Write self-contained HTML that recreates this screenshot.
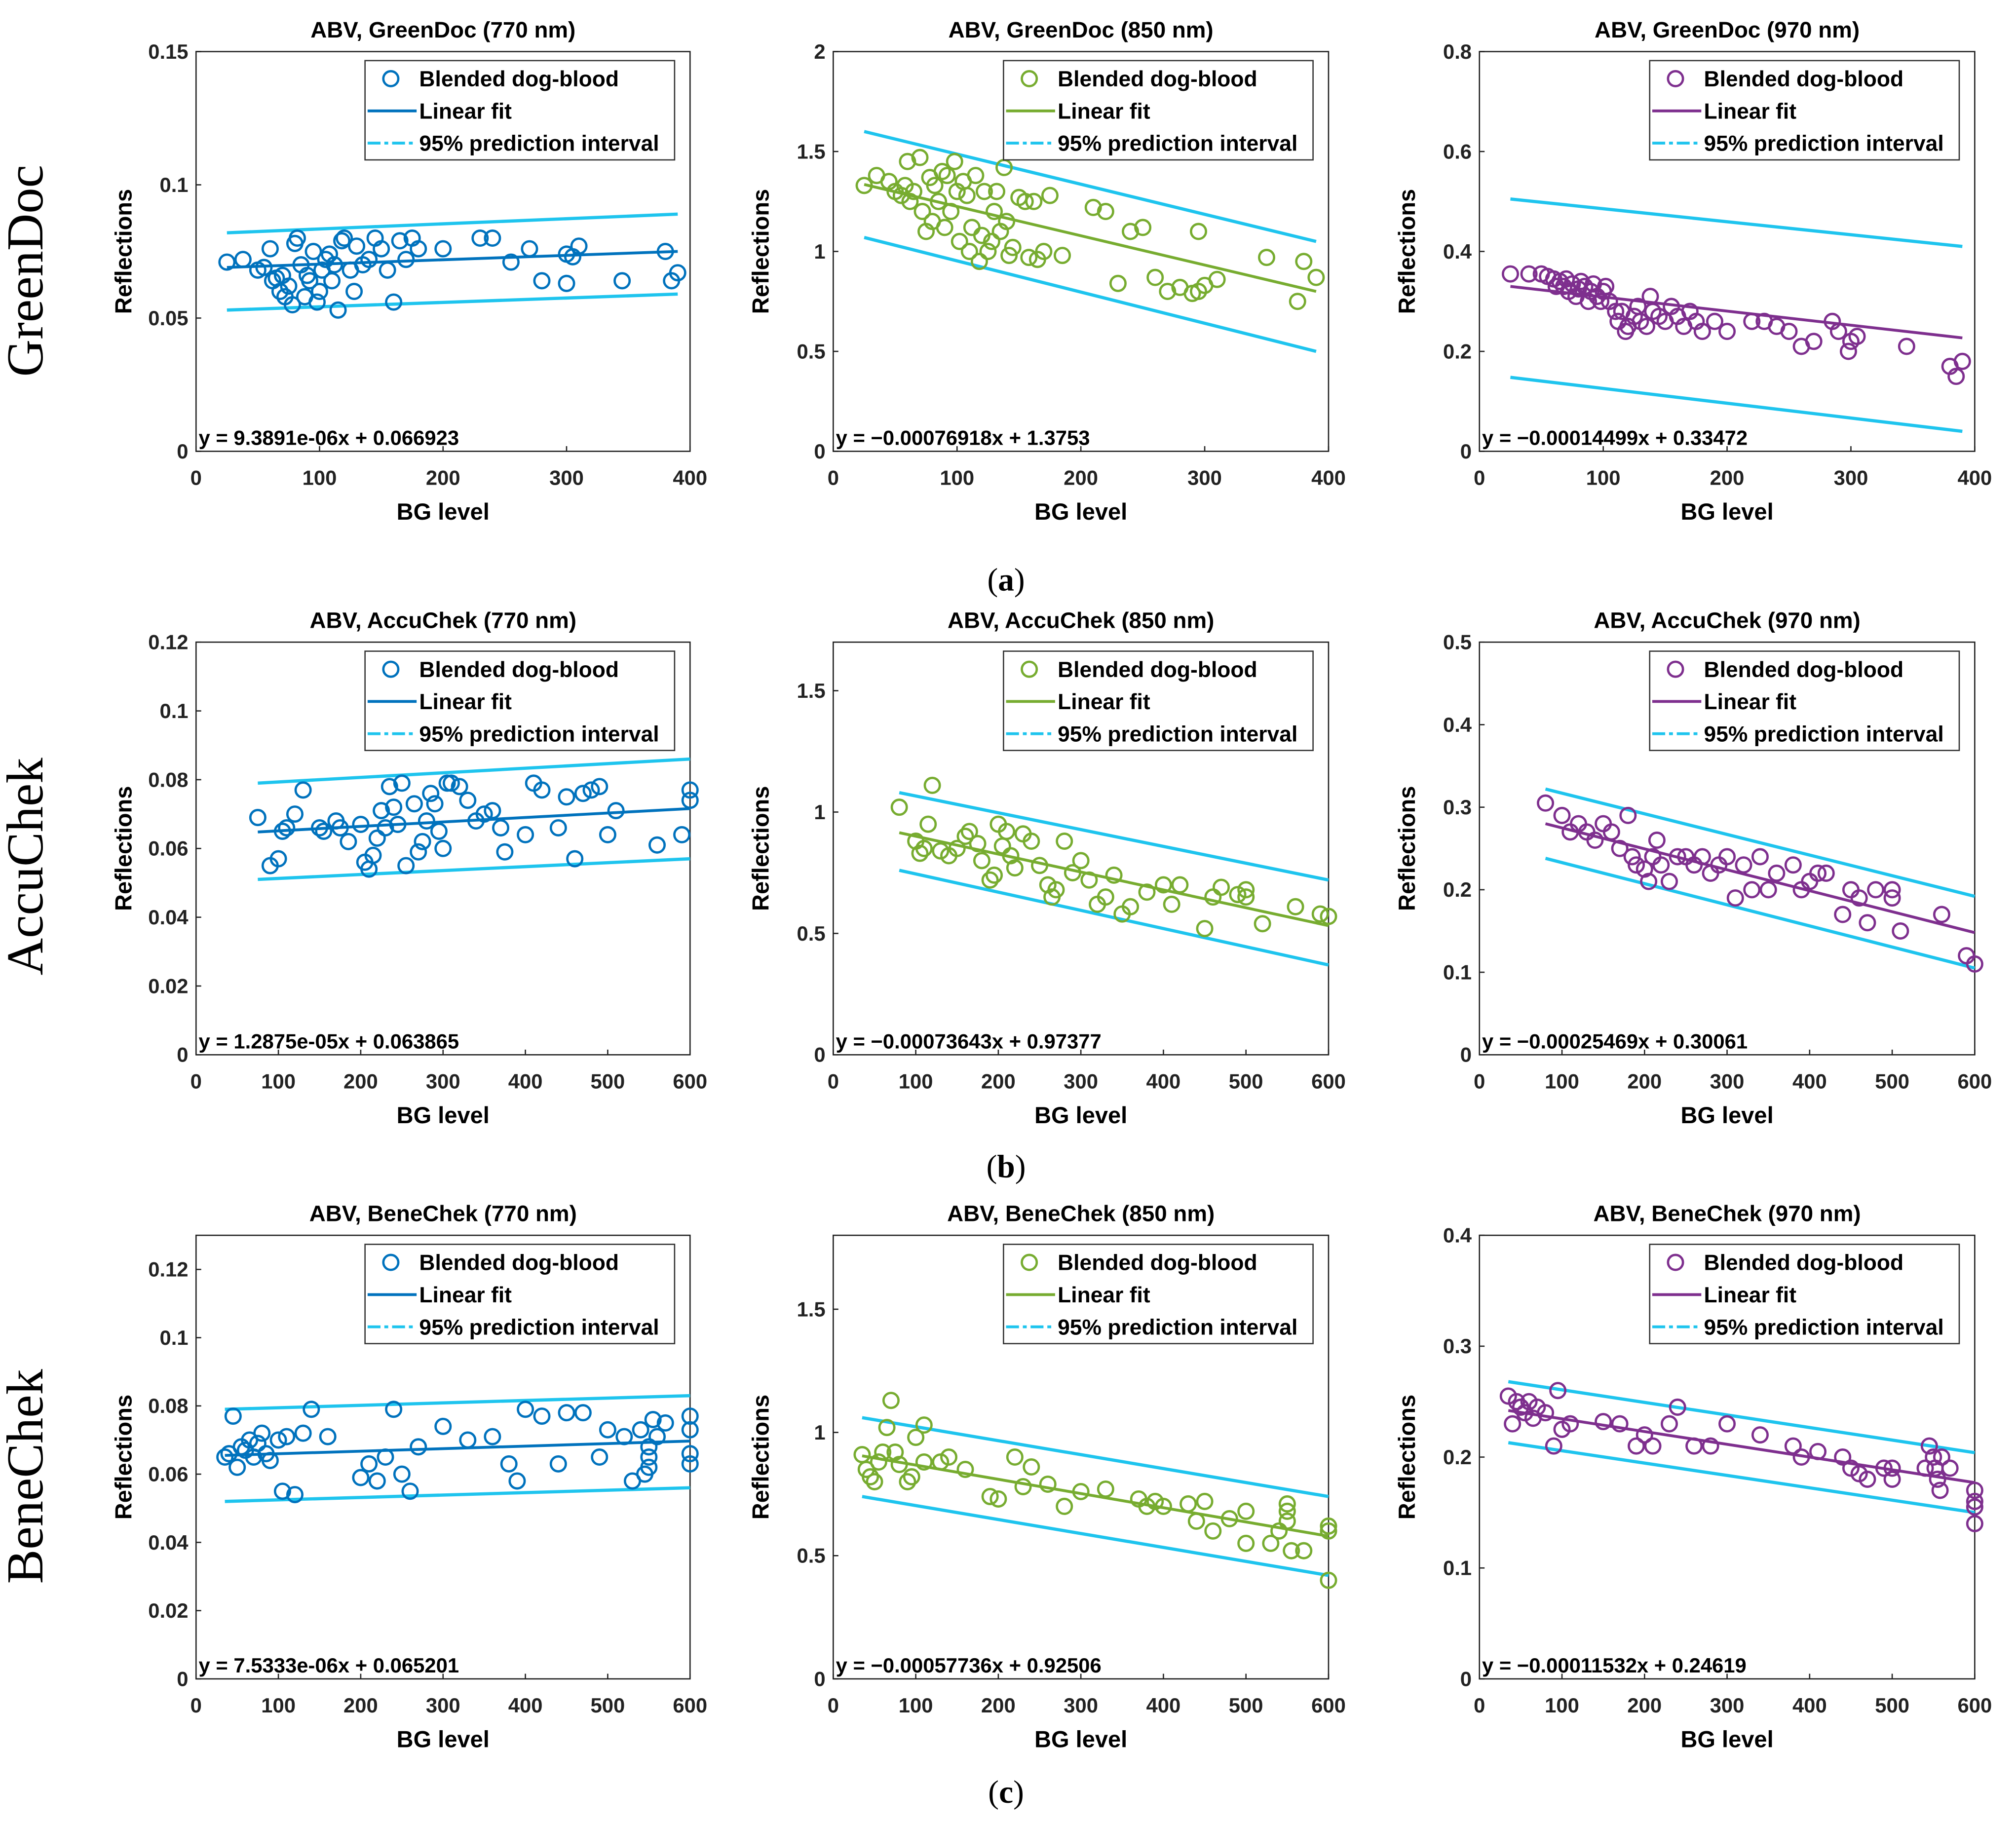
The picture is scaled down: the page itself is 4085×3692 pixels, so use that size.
<!DOCTYPE html>
<html>
<head>
<meta charset="utf-8">
<style>
  html, body { margin: 0; padding: 0; background: #fff; }
  svg { display: block; }
  text { font-family: "Liberation Sans", Arial, sans-serif; }
</style>
</head>
<body>
<svg id="fig" width="4085" height="3692" viewBox="0 0 1563 1413" preserveAspectRatio="none" xmlns="http://www.w3.org/2000/svg">
  <rect x="0" y="0" width="1563" height="1413" fill="#ffffff"/>
  <text x="33" y="210" font-size="40" text-anchor="middle" transform="rotate(-90 33 210)" style="font-family:'Liberation Serif',serif">GreenDoc</text>
  <text x="33" y="672" font-size="40" text-anchor="middle" transform="rotate(-90 33 672)" style="font-family:'Liberation Serif',serif">AccuChek</text>
  <text x="33" y="1145" font-size="40" text-anchor="middle" transform="rotate(-90 33 1145)" style="font-family:'Liberation Serif',serif">BeneChek</text>
  <text x="780" y="458" font-size="25" text-anchor="middle" style="font-family:'Liberation Serif',serif">(<tspan font-weight="bold">a</tspan>)</text>
  <text x="780" y="913" font-size="25" text-anchor="middle" style="font-family:'Liberation Serif',serif">(<tspan font-weight="bold">b</tspan>)</text>
  <text x="780" y="1398" font-size="25" text-anchor="middle" style="font-family:'Liberation Serif',serif">(<tspan font-weight="bold">c</tspan>)</text>
</svg>
<script>
// ---------- data ----------
const titles = ["ABV, GreenDoc (770 nm)","ABV, GreenDoc (850 nm)","ABV, GreenDoc (970 nm)",
  "ABV, AccuChek (770 nm)","ABV, AccuChek (850 nm)","ABV, AccuChek (970 nm)",
  "ABV, BeneChek (770 nm)","ABV, BeneChek (850 nm)","ABV, BeneChek (970 nm)"];
const equations = ["y = 9.3891e-06x + 0.066923","y = \u22120.00076918x + 1.3753","y = \u22120.00014499x + 0.33472",
  "y = 1.2875e-05x + 0.063865","y = \u22120.00073643x + 0.97377","y = \u22120.00025469x + 0.30061",
  "y = 7.5333e-06x + 0.065201","y = \u22120.00057736x + 0.92506","y = \u22120.00011532x + 0.24619"];
const fitXRange = [[25,390],[25,390],[25,390],[75,600],[80,600],[80,600],[35,600],[35,600],[35,600]];
const fitStartY = [0.069,1.335,0.33,0.0648,0.915,0.280,0.0655,0.905,0.242];
const fitEndY = [0.075,0.80,0.227,0.0716,0.532,0.148,0.0697,0.579,0.177];
const piUpper = [[0.082,0.089],[1.60,1.05],[0.505,0.41],[0.079,0.086],[1.08,0.72],[0.322,0.192],[0.079,0.083],[1.06,0.74],[0.268,0.204]];
const piLower = [[0.053,0.059],[1.07,0.50],[0.148,0.04],[0.051,0.057],[0.76,0.37],[0.238,0.105],[0.052,0.056],[0.74,0.42],[0.213,0.15]];
const xMax = [400,400,400,600,600,600,600,600,600];
const yMax = [0.15,2,0.8,0.12,1.7,0.5,0.13,1.8,0.4];
const yTicks = [[0,0.05,0.1,0.15],[0,0.5,1,1.5,2],[0,0.2,0.4,0.6,0.8],
  [0,0.02,0.04,0.06,0.08,0.1,0.12],[0,0.5,1,1.5],[0,0.1,0.2,0.3,0.4,0.5],
  [0,0.02,0.04,0.06,0.08,0.1,0.12],[0,0.5,1,1.5],[0,0.1,0.2,0.3,0.4]];
const yTickLabels = [["0","0.05","0.1","0.15"],["0","0.5","1","1.5","2"],["0","0.2","0.4","0.6","0.8"],
  ["0","0.02","0.04","0.06","0.08","0.1","0.12"],["0","0.5","1","1.5"],["0","0.1","0.2","0.3","0.4","0.5"],
  ["0","0.02","0.04","0.06","0.08","0.1","0.12"],["0","0.5","1","1.5"],["0","0.1","0.2","0.3","0.4"]];
const xTicks400 = [0,100,200,300,400];
const xTicks600 = [0,100,200,300,400,500,600];

const pts_a1 = [[25,0.071],[38,0.072],[50,0.068],[55,0.069],[60,0.076],[62,0.064],[65,0.065],[68,0.060],[70,0.066],[72,0.058],[75,0.062],[78,0.055],[80,0.078],[82,0.080],[85,0.070],[88,0.058],[90,0.066],[92,0.064],[95,0.075],[98,0.056],[100,0.060],[102,0.068],[105,0.072],[108,0.074],[110,0.064],[112,0.070],[115,0.053],[118,0.079],[120,0.080],[125,0.068],[128,0.060],[130,0.077],[135,0.070],[140,0.072],[145,0.080],[150,0.076],[155,0.068],[160,0.056],[165,0.079],[170,0.072],[175,0.080],[180,0.076],[200,0.076],[230,0.080],[240,0.080],[255,0.071],[270,0.076],[280,0.064],[300,0.074],[305,0.073],[310,0.077],[300,0.063],[345,0.064],[380,0.075],[385,0.064],[390,0.067]];
const pts_a2 = [[25,1.33],[35,1.38],[45,1.35],[50,1.30],[55,1.28],[58,1.33],[60,1.45],[62,1.25],[65,1.30],[70,1.47],[72,1.20],[75,1.10],[78,1.37],[80,1.15],[82,1.33],[85,1.25],[88,1.40],[90,1.12],[92,1.38],[95,1.20],[98,1.45],[100,1.30],[102,1.05],[105,1.35],[108,1.28],[110,1.00],[112,1.12],[115,1.38],[118,0.95],[120,1.08],[122,1.30],[125,1.00],[128,1.05],[130,1.20],[132,1.30],[135,1.10],[138,1.42],[140,1.15],[142,0.98],[145,1.02],[150,1.27],[155,1.25],[158,0.97],[162,1.25],[165,0.96],[170,1.00],[175,1.28],[185,0.98],[210,1.22],[220,1.20],[230,0.84],[240,1.10],[250,1.12],[260,0.87],[270,0.80],[280,0.82],[290,0.79],[295,0.80],[300,0.83],[310,0.86],[295,1.10],[350,0.97],[375,0.75],[380,0.95],[390,0.87]];
const pts_a3 = [[25,0.355],[40,0.355],[50,0.355],[55,0.35],[60,0.345],[62,0.33],[65,0.34],[68,0.33],[70,0.345],[72,0.32],[75,0.335],[78,0.31],[80,0.325],[82,0.34],[85,0.33],[88,0.30],[90,0.32],[92,0.335],[95,0.31],[98,0.30],[100,0.32],[102,0.33],[105,0.30],[110,0.28],[112,0.26],[115,0.28],[118,0.24],[120,0.25],[125,0.27],[128,0.29],[130,0.26],[135,0.25],[138,0.31],[140,0.28],[145,0.27],[150,0.26],[155,0.29],[160,0.27],[165,0.25],[170,0.28],[175,0.26],[180,0.24],[190,0.26],[200,0.24],[220,0.26],[230,0.26],[240,0.25],[250,0.24],[260,0.21],[270,0.22],[285,0.26],[290,0.24],[300,0.22],[305,0.23],[298,0.20],[345,0.21],[380,0.17],[385,0.15],[390,0.18]];
const pts_b1 = [[75,0.069],[90,0.055],[100,0.057],[105,0.065],[110,0.066],[120,0.070],[130,0.077],[150,0.066],[155,0.065],[170,0.068],[175,0.066],[185,0.062],[200,0.067],[205,0.056],[210,0.054],[215,0.058],[220,0.063],[225,0.071],[230,0.066],[235,0.078],[240,0.072],[245,0.067],[250,0.079],[255,0.055],[265,0.073],[270,0.059],[275,0.062],[280,0.068],[285,0.076],[290,0.073],[295,0.065],[300,0.060],[305,0.079],[310,0.079],[320,0.078],[330,0.074],[340,0.068],[350,0.070],[360,0.071],[370,0.066],[375,0.059],[400,0.064],[410,0.079],[420,0.077],[440,0.066],[450,0.075],[460,0.057],[470,0.076],[480,0.077],[490,0.078],[500,0.064],[510,0.071],[560,0.061],[590,0.064],[600,0.077],[600,0.074]];
const pts_b2 = [[80,1.02],[100,0.88],[105,0.83],[110,0.85],[115,0.95],[120,1.11],[130,0.84],[140,0.82],[150,0.85],[160,0.90],[165,0.92],[175,0.87],[180,0.80],[190,0.72],[195,0.74],[200,0.95],[205,0.86],[210,0.92],[215,0.82],[220,0.77],[230,0.91],[240,0.88],[250,0.78],[260,0.70],[265,0.65],[270,0.68],[280,0.88],[290,0.75],[300,0.80],[310,0.72],[320,0.62],[330,0.65],[340,0.74],[350,0.58],[360,0.61],[380,0.67],[400,0.70],[410,0.62],[420,0.70],[450,0.52],[460,0.65],[470,0.69],[490,0.66],[500,0.68],[500,0.65],[520,0.54],[560,0.61],[590,0.58],[600,0.57]];
const pts_b3 = [[80,0.305],[100,0.29],[110,0.27],[120,0.28],[130,0.27],[140,0.26],[150,0.28],[160,0.27],[170,0.25],[180,0.29],[185,0.24],[190,0.23],[200,0.225],[205,0.21],[210,0.24],[215,0.26],[220,0.23],[230,0.21],[240,0.24],[250,0.24],[260,0.23],[270,0.24],[280,0.22],[290,0.23],[300,0.24],[310,0.19],[320,0.23],[330,0.20],[340,0.24],[350,0.20],[360,0.22],[380,0.23],[390,0.20],[400,0.21],[410,0.22],[420,0.22],[440,0.17],[450,0.20],[460,0.19],[470,0.16],[480,0.20],[500,0.19],[500,0.20],[510,0.15],[560,0.17],[590,0.12],[600,0.11]];
const pts_c1 = [[35,0.065],[40,0.066],[45,0.077],[50,0.062],[55,0.068],[60,0.067],[65,0.070],[70,0.065],[75,0.069],[80,0.072],[85,0.066],[90,0.064],[100,0.070],[105,0.055],[110,0.071],[120,0.054],[130,0.072],[140,0.079],[160,0.071],[200,0.059],[210,0.063],[220,0.058],[230,0.065],[240,0.079],[250,0.060],[260,0.055],[270,0.068],[300,0.074],[330,0.070],[360,0.071],[380,0.063],[390,0.058],[400,0.079],[420,0.077],[440,0.063],[450,0.078],[470,0.078],[490,0.065],[500,0.073],[520,0.071],[530,0.058],[540,0.073],[545,0.060],[550,0.065],[555,0.076],[560,0.071],[550,0.068],[550,0.062],[570,0.075],[600,0.077],[600,0.073],[600,0.066],[600,0.063]];
const pts_c2 = [[35,0.91],[40,0.85],[45,0.82],[50,0.80],[55,0.88],[60,0.92],[65,1.02],[70,1.13],[75,0.92],[80,0.87],[90,0.80],[95,0.82],[100,0.98],[110,1.03],[110,0.88],[130,0.88],[140,0.90],[160,0.85],[190,0.74],[200,0.73],[220,0.90],[230,0.78],[240,0.86],[260,0.79],[280,0.70],[300,0.76],[330,0.77],[370,0.73],[380,0.70],[390,0.72],[400,0.70],[430,0.71],[440,0.64],[450,0.72],[460,0.60],[480,0.65],[500,0.68],[500,0.55],[530,0.55],[540,0.60],[550,0.71],[550,0.68],[550,0.64],[555,0.52],[570,0.52],[600,0.62],[600,0.60],[600,0.40]];
const pts_c3 = [[35,0.255],[40,0.23],[45,0.25],[50,0.245],[55,0.24],[60,0.25],[65,0.235],[70,0.245],[80,0.24],[90,0.21],[95,0.26],[100,0.225],[110,0.23],[150,0.232],[170,0.23],[190,0.21],[200,0.22],[210,0.21],[230,0.23],[240,0.245],[260,0.21],[280,0.21],[300,0.23],[340,0.22],[380,0.21],[390,0.20],[410,0.205],[440,0.20],[450,0.19],[460,0.185],[470,0.18],[490,0.19],[500,0.19],[500,0.18],[540,0.19],[545,0.21],[550,0.20],[552,0.19],[555,0.18],[558,0.17],[560,0.20],[570,0.19],[600,0.17],[600,0.16],[600,0.155],[600,0.14]];
const seriesPoints = [pts_a1,pts_a2,pts_a3,pts_b1,pts_b2,pts_b3,pts_c1,pts_c2,pts_c3];
const legendLabels = ["Blended dog-blood","Linear fit","95% prediction interval"];

// ---------- layout (styles/positions) ----------
const boxX = [[152,535],[646,1030],[1147,1531]];
const boxY = [[40,350],[498,818],[958,1302]];
const colColors = ["#0072bd","#77ac30","#7e2f8e"];
const piColor = "#1ec4ee";
const NS = "http://www.w3.org/2000/svg";
const svg = document.getElementById("fig");

function mk(tag, attrs, parent) {
  const e = document.createElementNS(NS, tag);
  for (const k in attrs) e.setAttribute(k, attrs[k]);
  (parent || svg).appendChild(e);
  return e;
}

for (let i = 0; i < 9; i++) {
  const r = Math.floor(i / 3), c = i % 3;
  const x0 = boxX[c][0], x1 = boxX[c][1];
  const y0 = boxY[r][0], y1 = boxY[r][1];
  const xs = v => x0 + (v / xMax[i]) * (x1 - x0);
  const ys = v => y1 - (v / yMax[i]) * (y1 - y0);
  const col = colColors[c];
  const g = mk("g", {});
  
  

  const t = mk("text", {x: (x0 + x1) / 2, y: y0 - 11, "font-size": 17.5, "font-weight": "bold", "text-anchor": "middle"}, g);
  t.textContent = titles[i];
  
  

  const box = mk("rect", {x: x0, y: y0, width: x1 - x0, height: y1 - y0, fill: "none", stroke: "#222", "stroke-width": 1}, g);
  
  

  yTicks[i].forEach((v, k) => {
    const yy = ys(v);
    mk("line", {x1: x0, x2: x0 + 4, y1: yy, y2: yy, stroke: "#222"}, g);
    const tl = mk("text", {x: x0 - 6, y: yy + 5.5, "font-size": 16, "font-weight": "bold", "text-anchor": "end", fill: "#222"}, g);
    tl.textContent = yTickLabels[i][k];
    
    
  });
  const xt = xMax[i] === 400 ? xTicks400 : xTicks600;
  xt.forEach(v => {
    const xx = xs(v);
    mk("line", {x1: xx, x2: xx, y1: y1, y2: y1 - 4, stroke: "#222"}, g);
    const tl = mk("text", {x: xx, y: y1 + 26, "font-size": 16, "font-weight": "bold", "text-anchor": "middle", fill: "#222"}, g);
    tl.textContent = String(v);
    
    
  });
  const xl = mk("text", {x: (x0 + x1) / 2, y: y1 + 53, "font-size": 18, "font-weight": "bold", "text-anchor": "middle"}, g);
  xl.textContent = "BG level";
  
  
  const yc = (y0 + y1) / 2, yxp = x0 - 50;
  const yl = mk("text", {x: yxp, y: yc, "font-size": 18, "font-weight": "bold", "text-anchor": "middle", transform: "rotate(-90 " + yxp + " " + yc + ")"}, g);
  yl.textContent = "Reflections";
  
  

  const fr = fitXRange[i];
  const pu = mk("line", {x1: xs(fr[0]), y1: ys(piUpper[i][0]), x2: xs(fr[1]), y2: ys(piUpper[i][1]), stroke: piColor, "stroke-width": 2.5}, g);
  
  
  const pl = mk("line", {x1: xs(fr[0]), y1: ys(piLower[i][0]), x2: xs(fr[1]), y2: ys(piLower[i][1]), stroke: piColor, "stroke-width": 2.5}, g);
  
  

  const fl = mk("line", {x1: xs(fr[0]), y1: ys(fitStartY[i]), x2: xs(fr[1]), y2: ys(fitEndY[i]), stroke: col, "stroke-width": 2.2}, g);
  
  

  seriesPoints[i].forEach(p => {
    const ci = mk("circle", {cx: xs(p[0]), cy: ys(p[1]), r: 5.8, fill: "none", stroke: col, "stroke-width": 1.8}, g);
    
    
  });

  const eq = mk("text", {x: x0 + 2, y: y1 - 5, "font-size": 16, "font-weight": "bold"}, g);
  eq.textContent = equations[i];
  
  

  const lw = 240, lx = x1 - 12 - lw, ly = y0 + 7;
  const lg = mk("g", {}, g);
  
  
  mk("rect", {x: lx, y: ly, width: lw, height: 77, fill: "#fff", stroke: "#333", "stroke-width": 1}, lg);
  const rowsY = [ly + 16, ly + 41, ly + 66];
  const m = mk("circle", {cx: lx + 20, cy: rowsY[0] - 2, r: 5.8, fill: "none", stroke: col, "stroke-width": 1.8}, lg);
  
  
  const l1 = mk("line", {x1: lx + 2, x2: lx + 40, y1: rowsY[1] - 2, y2: rowsY[1] - 2, stroke: col, "stroke-width": 2.2}, lg);
  
  
  const l2 = mk("line", {x1: lx + 2, x2: lx + 40, y1: rowsY[2] - 2, y2: rowsY[2] - 2, stroke: piColor, "stroke-width": 2.2, "stroke-dasharray": "10 3 3 3"}, lg);
  
  
  legendLabels.forEach((s, k) => {
    const lt = mk("text", {x: lx + 42, y: rowsY[k] + 4, "font-size": 17, "font-weight": "bold"}, lg);
    lt.textContent = s;
    
    
  });
}
</script>
</body>
</html>
